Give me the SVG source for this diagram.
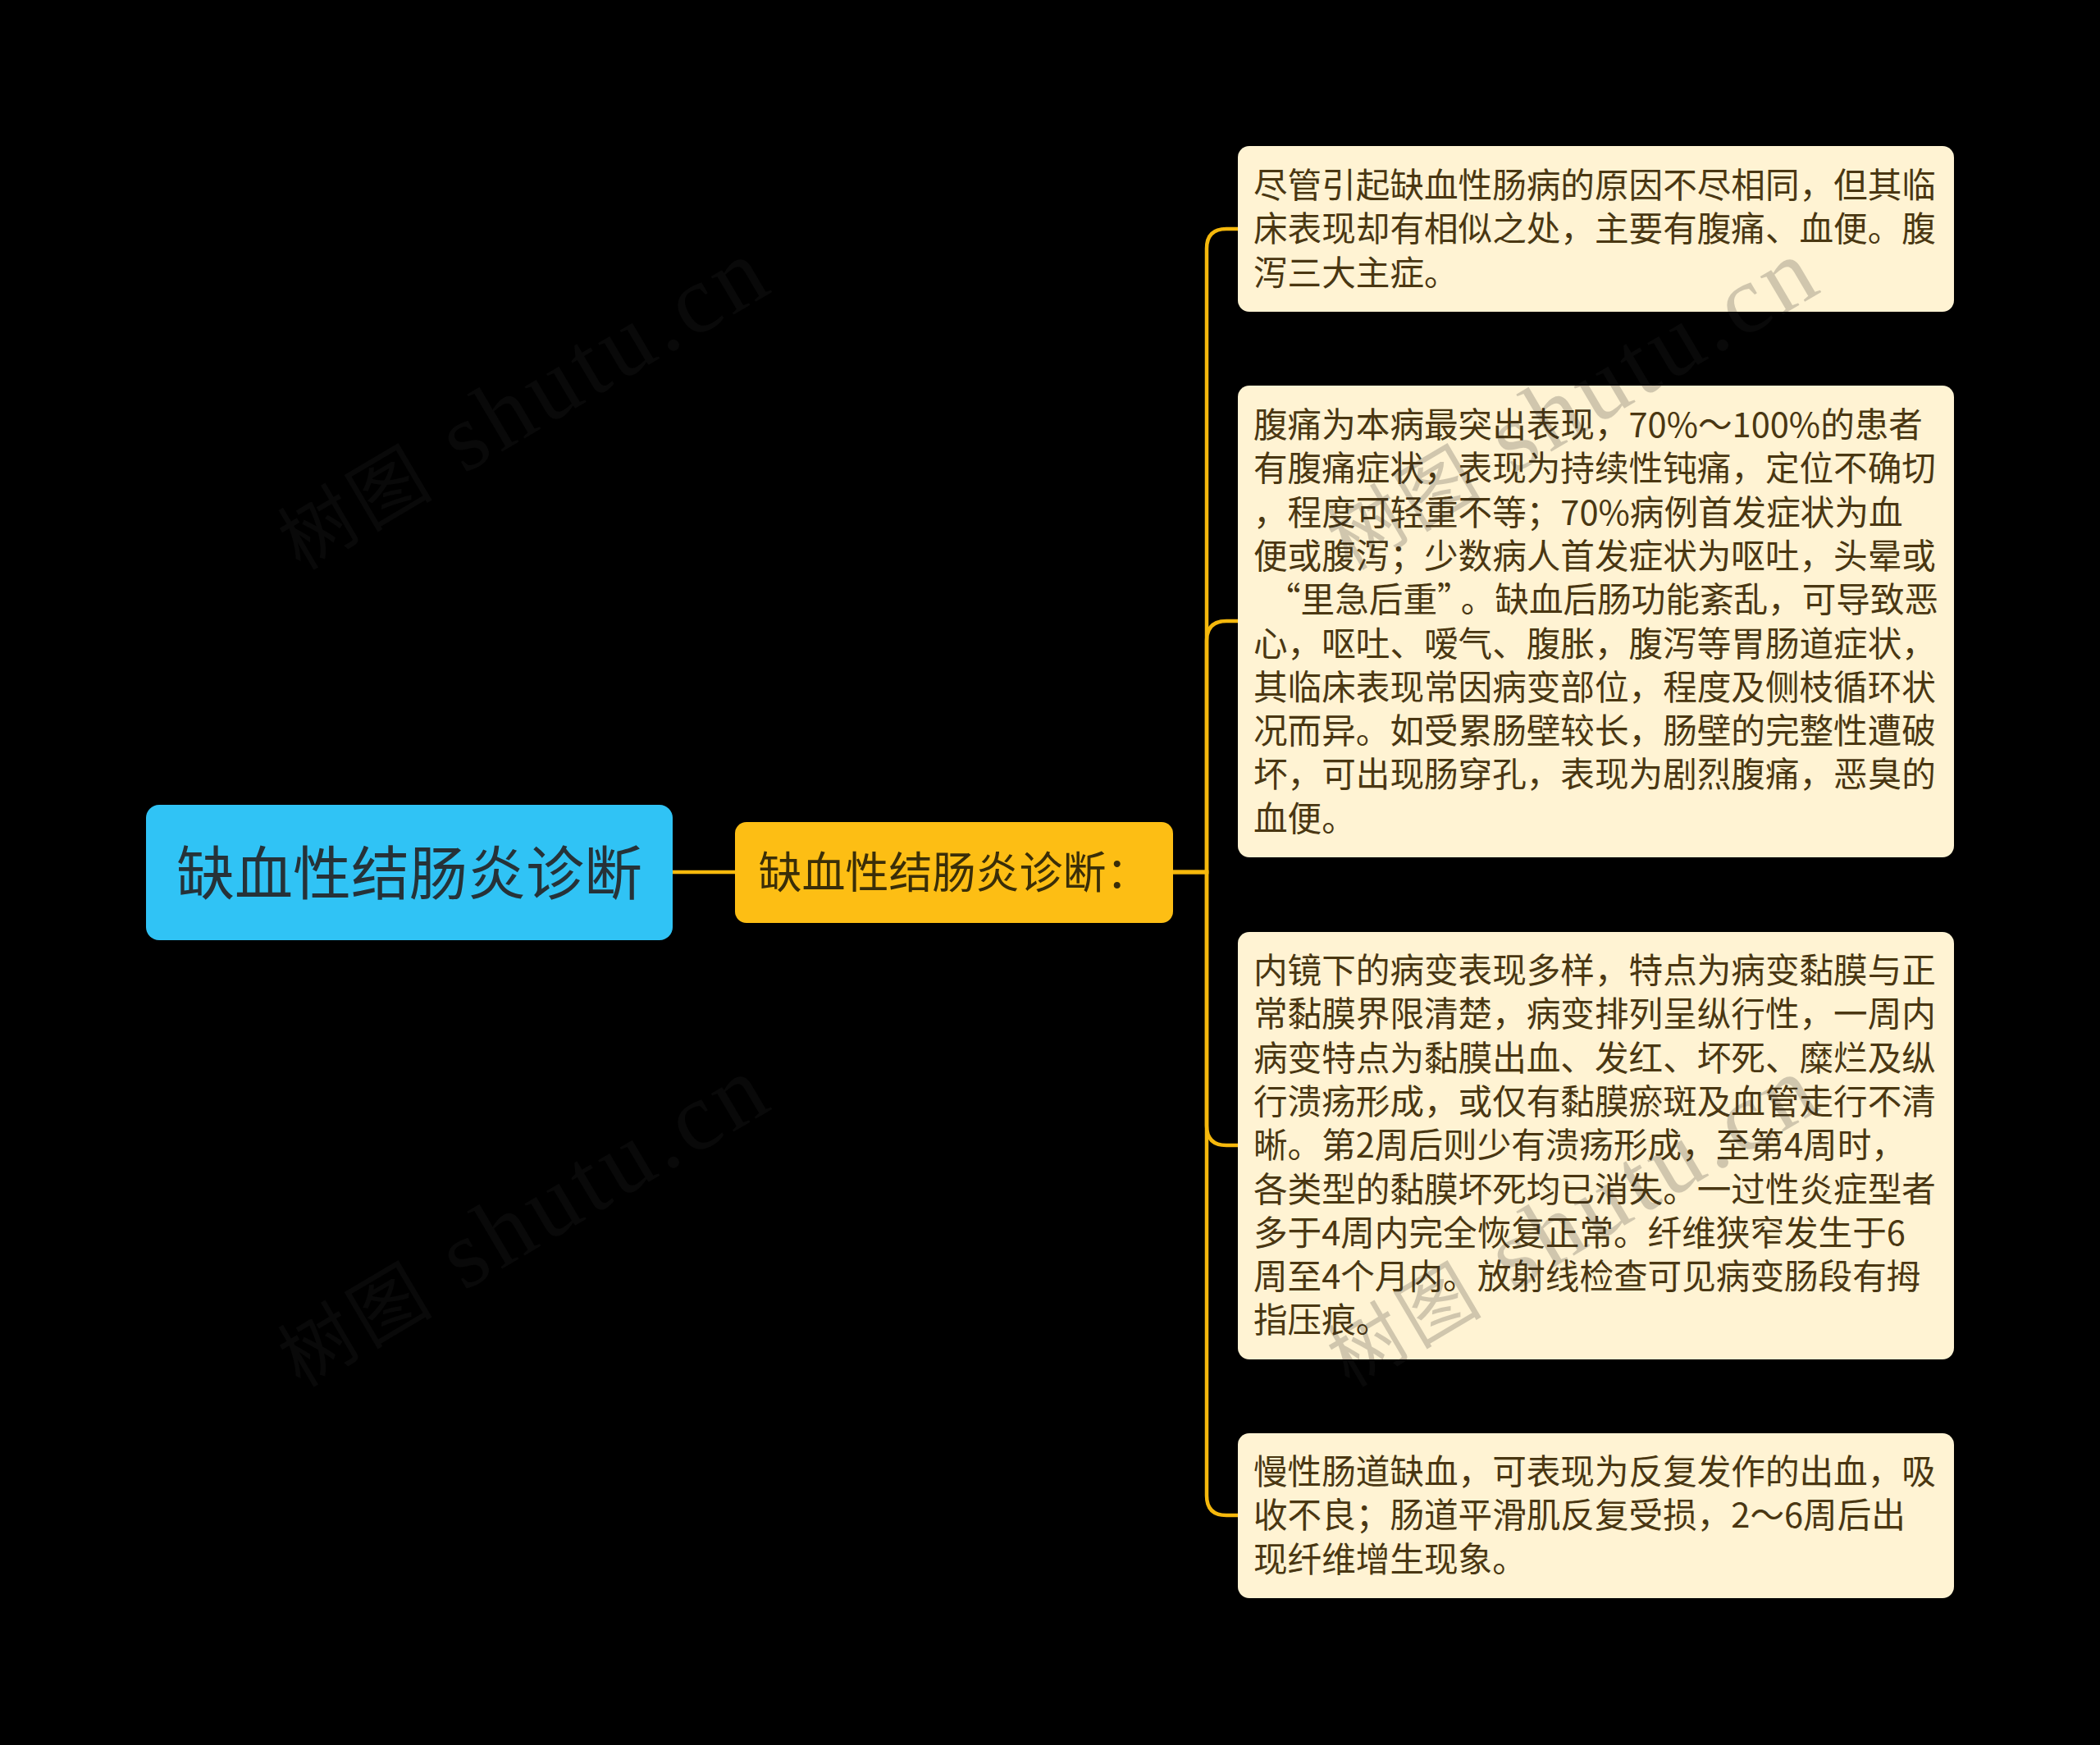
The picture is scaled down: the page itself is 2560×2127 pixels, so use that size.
<svg xmlns="http://www.w3.org/2000/svg" width="2560" height="2127" viewBox="0 0 2560 2127">
<style>
.cjk{font-family:"Noto Sans CJK SC","Noto Sans",sans-serif;}
.root-box{fill:#30C3F5;}
.root-txt{fill:#263238;font-size:71px;}
.mid-box{fill:#FDBE14;}
.mid-txt{fill:#3A2E08;font-size:53px;}
.leaf-box{fill:#FFF3D3;}
.leaf-txt{fill:#4A3712;font-size:41.6px;}
.conn{fill:none;stroke:#F5B80C;stroke-width:4.5;}
.wm{font-family:"Liberation Serif","Noto Sans CJK SC",serif;fill:#2a2a2a;fill-opacity:0.22;}
</style>
<rect x="0" y="0" width="2560" height="2127" fill="#000000"/>
<g id="connectors">
<path class="conn" d="M820,1063 H896"/>
<path class="conn" d="M1430,1063 H1471 V303 Q1471,279 1495,279 H1509"/>
<path class="conn" d="M1430,1063 H1471 V781 Q1471,757 1495,757 H1509"/>
<path class="conn" d="M1430,1063 H1471 V1372 Q1471,1396 1495,1396 H1509"/>
<path class="conn" d="M1430,1063 H1471 V1823 Q1471,1847 1495,1847 H1509"/>
</g>
<g id="root">
<rect class="root-box" x="178" y="981" width="642" height="165" rx="16"/>
<text class="cjk root-txt" x="499" y="1090" text-anchor="middle">缺血性结肠炎诊断</text>
</g>
<g id="mid">
<rect class="mid-box" x="896" y="1002" width="534" height="123" rx="14"/>
<text class="cjk mid-txt" x="1163" y="1083" text-anchor="middle">缺血性结肠炎诊断：</text>
</g>
<g id="leaf1">
<rect class="leaf-box" x="1509" y="178" width="873" height="202" rx="14"/>
<text class="cjk leaf-txt" x="1528" y="241"><tspan x="1528">尽管引起缺血性肠病的原因不尽相同，但其临</tspan><tspan x="1528" dy="53.3">床表现却有相似之处，主要有腹痛、血便。腹</tspan><tspan x="1528" dy="53.3">泻三大主症。</tspan></text>
</g>
<g id="leaf2">
<rect class="leaf-box" x="1509" y="470" width="873" height="575" rx="14"/>
<text class="cjk leaf-txt" x="1528" y="533"><tspan x="1528">腹痛为本病最突出表现，70%～100%的患者</tspan><tspan x="1528" dy="53.3">有腹痛症状，表现为持续性钝痛，定位不确切</tspan><tspan x="1528" dy="53.3">，程度可轻重不等；70%病例首发症状为血</tspan><tspan x="1528" dy="53.3">便或腹泻；少数病人首发症状为呕吐，头晕或</tspan><tspan x="1544" dy="53.3">“里急后重”</tspan><tspan dx="8">。缺血后肠功能紊乱，可导致恶</tspan><tspan x="1528" dy="53.3">心，呕吐、嗳气、腹胀，腹泻等胃肠道症状，</tspan><tspan x="1528" dy="53.3">其临床表现常因病变部位，程度及侧枝循环状</tspan><tspan x="1528" dy="53.3">况而异。如受累肠壁较长，肠壁的完整性遭破</tspan><tspan x="1528" dy="53.3">坏，可出现肠穿孔，表现为剧烈腹痛，恶臭的</tspan><tspan x="1528" dy="53.3">血便。</tspan></text>
</g>
<g id="leaf3">
<rect class="leaf-box" x="1509" y="1136" width="873" height="521" rx="14"/>
<text class="cjk leaf-txt" x="1528" y="1198"><tspan x="1528">内镜下的病变表现多样，特点为病变黏膜与正</tspan><tspan x="1528" dy="53.3">常黏膜界限清楚，病变排列呈纵行性，一周内</tspan><tspan x="1528" dy="53.3">病变特点为黏膜出血、发红、坏死、糜烂及纵</tspan><tspan x="1528" dy="53.3">行溃疡形成，或仅有黏膜瘀斑及血管走行不清</tspan><tspan x="1528" dy="53.3">晰。第2周后则少有溃疡形成，至第4周时，</tspan><tspan x="1528" dy="53.3">各类型的黏膜坏死均已消失。一过性炎症型者</tspan><tspan x="1528" dy="53.3">多于4周内完全恢复正常。纤维狭窄发生于6</tspan><tspan x="1528" dy="53.3">周至4个月内。放射线检查可见病变肠段有拇</tspan><tspan x="1528" dy="53.3">指压痕。</tspan></text>
</g>
<g id="leaf4">
<rect class="leaf-box" x="1509" y="1747" width="873" height="201" rx="14"/>
<text class="cjk leaf-txt" x="1528" y="1809"><tspan x="1528">慢性肠道缺血，可表现为反复发作的出血，吸</tspan><tspan x="1528" dy="53.3">收不良；肠道平滑肌反复受损，2～6周后出</tspan><tspan x="1528" dy="53.3">现纤维增生现象。</tspan></text>
</g>
<g id="watermarks">
<text class="wm" transform="translate(366,696) rotate(-30.6)" textLength="670" lengthAdjust="spacing"><tspan font-size="92">树图</tspan><tspan font-size="118"> shutu.cn</tspan></text>
<text class="wm" transform="translate(366,1692) rotate(-30.6)" textLength="670" lengthAdjust="spacing"><tspan font-size="92">树图</tspan><tspan font-size="118"> shutu.cn</tspan></text>
<text class="wm" transform="translate(1645,696) rotate(-30.6)" textLength="670" lengthAdjust="spacing"><tspan font-size="92">树图</tspan><tspan font-size="118"> shutu.cn</tspan></text>
<text class="wm" transform="translate(1645,1692) rotate(-30.6)" textLength="670" lengthAdjust="spacing"><tspan font-size="92">树图</tspan><tspan font-size="118"> shutu.cn</tspan></text>
</g>
</svg>
